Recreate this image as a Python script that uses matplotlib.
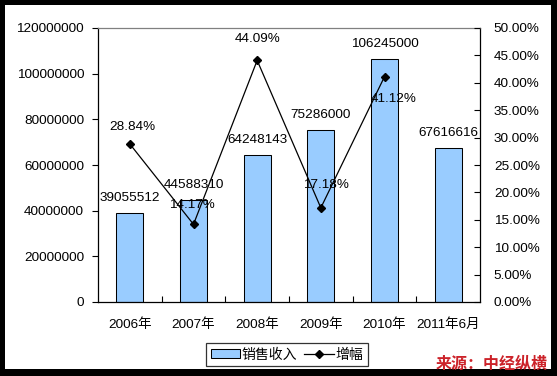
import matplotlib
matplotlib.use("Agg")
import matplotlib.pyplot as plt
from matplotlib.patches import Rectangle
from matplotlib.lines import Line2D
from matplotlib.ticker import FuncFormatter, MultipleLocator

plt.rcParams['font.family'] = ['Liberation Sans', 'Noto Sans CJK SC', 'DejaVu Sans']

categories = ['2006年', '2007年', '2008年', '2009年', '2010年', '2011年6月']
sales = [39055512, 44588310, 64248143, 75286000, 106245000, 67616616]
growth = [28.84, 14.17, 44.09, 17.18, 41.12]
growth_labels = ['28.84%', '14.17%', '44.09%', '17.18%', '41.12%']
sales_name = '销售收入'
growth_name = '增幅'
source_text = '来源：中经纵横'

# label offsets (pixels) for growth labels
g_offsets = [(3, 17), (-2, 19), (0, 21), (5, 23), (9, -22)]

W, H = 557, 376
dpi = 100
fig = plt.figure(figsize=(W / dpi, H / dpi), dpi=dpi, facecolor='black')
bg = Rectangle((5 / W, 7 / H), (551 - 5) / W, (371 - 7) / H,
               transform=fig.transFigure, facecolor='white',
               edgecolor='none', zorder=-10)
fig.patches.append(bg)

ax = fig.add_axes([98 / W, (H - 302) / H, (480 - 98) / W, (302 - 28) / H])
ax.set_facecolor('white')
x = list(range(len(categories)))
ax.bar(x, sales, width=0.42, color='#99CCFF', edgecolor='black', linewidth=0.75, zorder=2)
ax.set_xlim(-0.5, len(categories) - 0.5)
ax.set_ylim(0, 120000000)
ax.yaxis.set_major_locator(MultipleLocator(20000000))
ax.yaxis.set_major_formatter(FuncFormatter(lambda v, p: f'{int(v)}'))
ax.set_xticks(x)
ax.set_xticklabels(categories, fontsize=9.7)
ax.set_xticks([i + 0.5 for i in x[:-1]], minor=True)
ax.tick_params(axis='x', which='major', length=0, pad=12)
ax.tick_params(axis='x', which='minor', direction='in', length=4, width=0.8)
ax.tick_params(axis='y', direction='out', length=4, width=0.8, labelsize=9.7, pad=6)
for s in ['left', 'right', 'bottom']:
    ax.spines[s].set_color('black')
    ax.spines[s].set_linewidth(0.9)
ax.spines['top'].set_color('#808080')
ax.spines['top'].set_linewidth(0.9)

for xi, v in zip(x, sales):
    ax.annotate(f'{v}', (xi, v), xytext=(0, 15), textcoords='offset pixels',
                ha='center', va='center', fontsize=9.7, zorder=5)

ax2 = ax.twinx()
ax2.set_ylim(0, 50)
ax2.yaxis.set_major_locator(MultipleLocator(5))
ax2.yaxis.set_major_formatter(FuncFormatter(lambda v, p: f'{v:.2f}%'))
ax2.tick_params(axis='y', direction='in', length=4, width=0.8, labelsize=9.7, pad=10)
for s in ax2.spines.values():
    s.set_visible(False)
ax2.plot(x[:len(growth)], growth, color='black', linewidth=0.9, marker='D',
         markersize=4.5, zorder=4)
for xi, v, lab, (dx, dy) in zip(x, growth, growth_labels, g_offsets):
    ax2.annotate(lab, (xi, v), xytext=(dx, dy), textcoords='offset pixels',
                 ha='center', va='center', fontsize=9.7, zorder=5)

handles = [Rectangle((0, 0), 1, 1, facecolor='#99CCFF', edgecolor='black', linewidth=0.75),
           Line2D([], [], color='black', linewidth=0.9, marker='D', markersize=4)]
leg = fig.legend(handles, [sales_name, growth_name], loc='center',
                 bbox_to_anchor=(287 / W, (H - 354.5) / H), ncol=2,
                 frameon=True, fancybox=False, edgecolor='black',
                 prop={'family': 'Noto Sans CJK SC', 'size': 10},
                 handlelength=2.1, handleheight=0.55, handletextpad=0.15,
                 columnspacing=0.5, borderpad=0.3, borderaxespad=0)
leg.get_frame().set_linewidth(0.9)

fig.text(548 / W, (H - 364) / H, source_text, ha='right', va='center',
         color='#CC2229', fontsize=11.5, fontweight='bold',
         family='Noto Sans CJK SC')

fig.savefig('out.png', dpi=dpi, facecolor='black')
